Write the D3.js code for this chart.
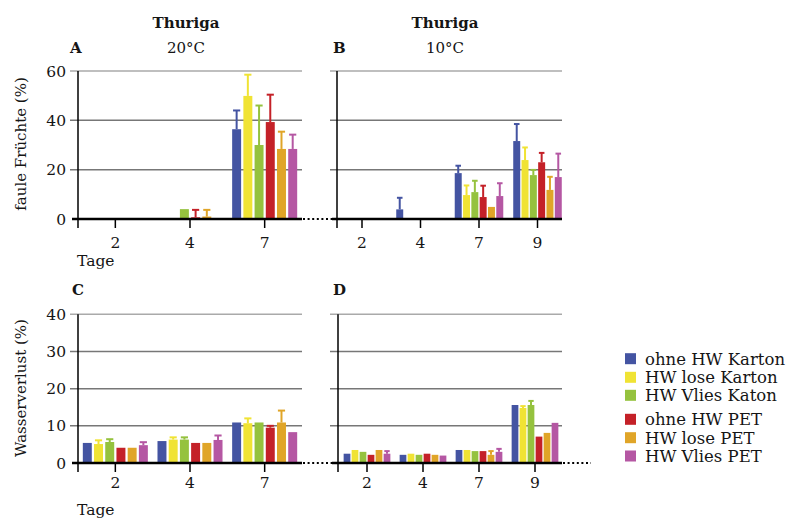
<!DOCTYPE html>
<html>
<head>
<meta charset="utf-8">
<script src="https://cdn.jsdelivr.net/npm/d3@7"></script>
<style>
  body { margin: 0; background: #fff; }
  text { font-family: "DejaVu Serif", serif; fill: #151515; }
</style>
</head>
<body>
<div class="container"></div>
<script>
// data
const series = ['ohne HW Karton', 'HW lose Karton', 'HW Vlies Katon', 'ohne HW PET', 'HW lose PET', 'HW Vlies PET'];
const colors = ['#4454a2', '#f0e334', '#95c23e', '#c42128', '#e0a528', '#b557a3'];

const daysA = ['2', '4', '7'];
const rotA = [
  [0, 0, 36.4], [0, 0, 49.9], [0, 4, 30], [0, 0.7, 39.3], [0, 1, 28.4], [0, 0, 28.4]
];
const rotAErr = [
  [0, 0, 7.6], [0, 0, 8.6], [0, 0, 16], [0, 3, 11.1], [0, 2.7, 7], [0, 0, 5.8]
];

const daysB = ['2', '4', '7', '9'];
const rotB = [
  [0, 3.9, 18.6, 31.6], [0, 0, 9.7, 23.9], [0, 0, 10.9, 17.8], [0, 0, 8.9, 23], [0, 0, 4.9, 11.8], [0, 0, 9.3, 17]
];
const rotBErr = [
  [0, 4.7, 3, 6.9], [0, 0, 3.9, 5.1], [0, 0, 4.6, 2.1], [0, 0, 4.6, 3.8], [0, 0, 0, 5.3], [0, 0, 5.2, 9.5]
];

const daysC = ['2', '4', '7'];
const lossC = [
  [5.4, 5.9, 10.9], [5.1, 6.3, 10.7], [5.65, 6.3, 10.9], [4.1, 5.4, 9.5], [4.1, 5.4, 10.9], [4.8, 6.2, 8.3]
];
const lossCErr = [
  [0, 0, 0], [1, 0.6, 1.3], [0.75, 0.6, 0], [0, 0, 0.5], [0, 0, 3.2], [0.8, 1.2, 0]
];

const daysD = ['2', '4', '7', '9'];
const lossD = [
  [2.5, 2.2, 3.5, 15.6], [3.5, 2.5, 3.5, 14.8], [3.0, 2.2, 3.2, 15.6], [2.2, 2.5, 3.2, 7.1], [3.5, 2.2, 2.2, 8.1], [2.5, 2.0, 3.0, 10.8]
];
const lossDErr = [
  [0, 0, 0, 0], [0, 0, 0, 0.5], [0, 0, 0, 1.1], [0, 0, 0, 0], [0, 0, 1, 0], [0.7, 0, 0.8, 0]
];

const ticksTop = [0, 20, 40, 60];
const ticksBottom = [0, 10, 20, 30, 40];

// setup
const w = 801;
const h = 519;

const svg = d3.select('.container')
              .append('svg')
              .attr('width', w)
              .attr('height', h);

const drawPanel = (p) => {
    const g = svg.append('g');

    const y = d3.scaleLinear()
                .domain([0, d3.max(p.ticks)])
                .range([p.y0, p.yTop]);

    const x0 = d3.scaleBand()
                 .domain(p.days)
                 .range(p.band);
    const x1 = d3.scaleBand()
                 .domain(series)
                 .range([0, x0.bandwidth()])
                 .paddingInner(p.pi)
                 .paddingOuter(p.po);

    // grid
    g.selectAll('.grid')
     .data(p.ticks.filter(d => d > 0))
     .enter().append('line')
        .attr('x1', p.gridStart)
        .attr('x2', p.gridEnd)
        .attr('y1', d => y(d))
        .attr('y2', d => y(d))
        .attr('stroke', (d, i, n) => i === n.length - 1 ? '#aaa' : '#777')
        .attr('stroke-width', 1.5);

    // tick labels left
    if (p.labels) {
        g.selectAll('.ylab')
         .data(p.ticks)
         .enter().append('text')
            .attr('x', p.gridStart - 4)
            .attr('y', d => y(d))
            .attr('dy', '0.36em')
            .attr('text-anchor', 'end')
            .attr('font-size', 15.5)
            .text(d => d);
    }

    // bars
    const cells = [];
    series.forEach((s, si) => {
        p.days.forEach((d, di) => {
            cells.push({ s, si, d, v: p.values[si][di], e: p.errors[si][di] });
        });
    });

    g.selectAll('.bar')
     .data(cells.filter(c => c.v > 0))
     .enter().append('rect')
        .attr('x', c => x0(c.d) + x1(c.s))
        .attr('width', x1.bandwidth())
        .attr('y', c => y(c.v))
        .attr('height', c => y(0) - y(c.v))
        .attr('fill', c => colors[c.si]);

    const errs = cells.filter(c => c.e > 0);
    g.selectAll('.err')
     .data(errs)
     .enter().append('line')
        .attr('x1', c => x0(c.d) + x1(c.s) + x1.bandwidth() / 2)
        .attr('x2', c => x0(c.d) + x1(c.s) + x1.bandwidth() / 2)
        .attr('y1', c => y(c.v))
        .attr('y2', c => y(c.v + c.e))
        .attr('stroke', c => colors[c.si])
        .attr('stroke-width', 2);
    g.selectAll('.cap')
     .data(errs)
     .enter().append('line')
        .attr('x1', c => x0(c.d) + x1(c.s) + x1.bandwidth() * 0.1)
        .attr('x2', c => x0(c.d) + x1(c.s) + x1.bandwidth() * 0.9)
        .attr('y1', c => y(c.v + c.e))
        .attr('y2', c => y(c.v + c.e))
        .attr('stroke', c => colors[c.si])
        .attr('stroke-width', 2);

    // axes
    g.append('line')
     .attr('x1', p.axisX).attr('x2', p.axisX)
     .attr('y1', y(d3.max(p.ticks))).attr('y2', y(0) + 9)
     .attr('stroke', '#000').attr('stroke-width', 1.5);
    g.append('line')
     .attr('x1', p.gridStart + 2).attr('x2', p.gridEnd)
     .attr('y1', y(0)).attr('y2', y(0))
     .attr('stroke', '#000').attr('stroke-width', 2.5);
    p.dots.forEach(([a, b]) => {
        g.append('line')
         .attr('x1', a).attr('x2', b)
         .attr('y1', y(0)).attr('y2', y(0))
         .attr('stroke', '#000').attr('stroke-width', 2)
         .attr('stroke-dasharray', '2,2.6');
    });

    g.selectAll('.xtick')
     .data(p.days)
     .enter().append('line')
        .attr('x1', d => x0(d) + x0.bandwidth() / 2)
        .attr('x2', d => x0(d) + x0.bandwidth() / 2)
        .attr('y1', y(0))
        .attr('y2', y(0) + 9)
        .attr('stroke', '#000').attr('stroke-width', 1.5);
    g.selectAll('.xlab')
     .data(p.days)
     .enter().append('text')
        .attr('x', d => x0(d) + x0.bandwidth() / 2)
        .attr('y', p.xlabY)
        .attr('text-anchor', 'middle')
        .attr('font-size', 15.5)
        .text(d => d);
};

drawPanel({ days: daysA, values: rotA, errors: rotAErr, ticks: ticksTop, y0: 219, yTop: 71,
            band: [78, 302], pi: 0.2, po: 0.43, axisX: 78, gridStart: 70, gridEnd: 302,
            labels: true, xlabY: 248, dots: [[303, 337]] });
drawPanel({ days: daysB, values: rotB, errors: rotBErr, ticks: ticksTop, y0: 219, yTop: 71,
            band: [332.75, 566.75], pi: 0.16, po: 0.6, axisX: 337, gridStart: 330, gridEnd: 562,
            labels: false, xlabY: 248, dots: [] });
drawPanel({ days: daysC, values: lossC, errors: lossCErr, ticks: ticksBottom, y0: 463, yTop: 314.3,
            band: [78, 302], pi: 0.2, po: 0.43, axisX: 78, gridStart: 70, gridEnd: 302,
            labels: true, xlabY: 488, dots: [[303, 337]] });
drawPanel({ days: daysD, values: lossD, errors: lossDErr, ticks: ticksBottom, y0: 463, yTop: 314.3,
            band: [339, 563], pi: 0.16, po: 0.58, axisX: 338, gridStart: 330, gridEnd: 562,
            labels: false, xlabY: 488, dots: [[563, 591]] });

// titles
const titles = svg.append('g').attr('font-size', 15);
titles.append('text').attr('x', 186).attr('y', 28).attr('text-anchor', 'middle')
      .attr('font-weight', 'bold').text('Thuriga');
titles.append('text').attr('x', 186).attr('y', 53).attr('text-anchor', 'middle').text('20°C');
titles.append('text').attr('x', 445).attr('y', 28).attr('text-anchor', 'middle')
      .attr('font-weight', 'bold').text('Thuriga');
titles.append('text').attr('x', 445).attr('y', 53).attr('text-anchor', 'middle').text('10°C');
titles.append('text').attr('x', 70).attr('y', 53).attr('font-weight', 'bold').text('A');
titles.append('text').attr('x', 333).attr('y', 53).attr('font-weight', 'bold').text('B');
titles.append('text').attr('x', 72).attr('y', 295).attr('font-weight', 'bold').text('C');
titles.append('text').attr('x', 333).attr('y', 295).attr('font-weight', 'bold').text('D');
titles.append('text').attr('x', 77).attr('y', 266).attr('font-size', 15.5).text('Tage');
titles.append('text').attr('x', 77).attr('y', 515).attr('font-size', 15.5).text('Tage');
titles.append('text').attr('transform', 'translate(26, 144) rotate(-90)')
      .attr('text-anchor', 'middle').text('faule Früchte (%)');
titles.append('text').attr('transform', 'translate(26, 388) rotate(-90)')
      .attr('text-anchor', 'middle').text('Wasserverlust (%)');

// legend
const legendY = [358.7, 377.3, 395.3, 419.3, 437.7, 456];
const legend = svg.append('g');
legend.selectAll('rect')
      .data(series)
      .enter().append('rect')
        .attr('x', 625)
        .attr('y', (d, i) => legendY[i] - 5.5)
        .attr('width', 11)
        .attr('height', 11)
        .attr('fill', (d, i) => colors[i]);
legend.selectAll('text')
      .data(series)
      .enter().append('text')
        .attr('x', 645)
        .attr('y', (d, i) => legendY[i])
        .attr('dy', '0.36em')
        .attr('font-size', 16.5)
        .text(d => d);
</script>
</body>
</html>
